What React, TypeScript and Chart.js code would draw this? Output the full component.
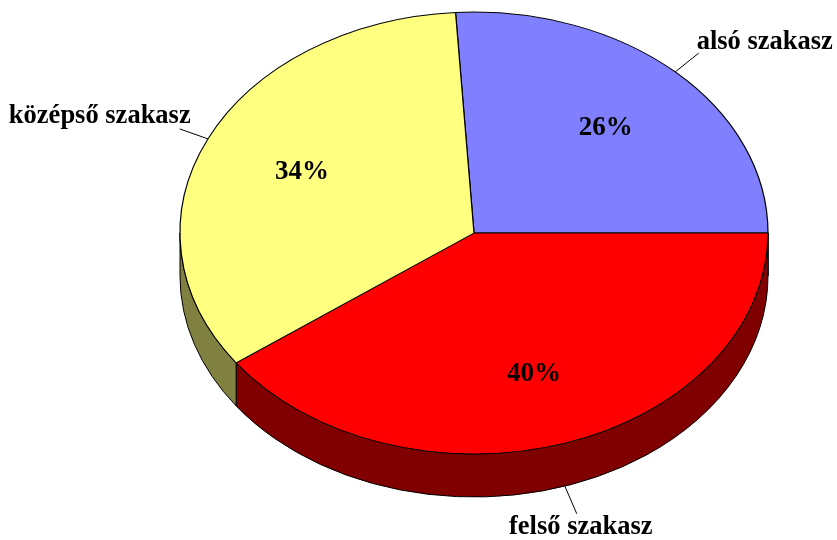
import React, { useEffect, useRef } from "react";
import { Chart, registerables } from "chart.js";

Chart.register(...registerables);

const categories = ["alsó szakasz", "felső szakasz", "középső szakasz"];
const values = [26, 40, 34];
const topColors = ["#8080FF", "#FF0000", "#FFFF80"];
const sideColors = ["#404080", "#800000", "#808040"];

const DEPTH = 43;
const PCT_FONT = 'bold 27px "Liberation Serif", "Times New Roman", serif';
const CAT_FONT = 'bold 26.5px "Liberation Serif", "Times New Roman", serif';

function geom(chart: any) {
  const a = chart.chartArea;
  const rx = (a.right - a.left) / 2;
  const ry = (a.bottom - a.top - DEPTH) / 2;
  const cx = (a.left + a.right) / 2;
  const cy = a.top + ry;
  return { cx, cy, rx, ry };
}

const pie3d = {
  id: "pie3d",
  beforeDatasetsDraw(chart: any) {
    const ctx = chart.ctx as CanvasRenderingContext2D;
    const meta = chart.getDatasetMeta(0);
    const { cx, cy, rx, ry } = geom(chart);
    ctx.save();
    ctx.lineWidth = 1;
    ctx.strokeStyle = "#000";
    ctx.lineJoin = "round";
    meta.data.forEach((arc: any, i: number) => {
      const startAngle = arc.startAngle;
      const endAngle = arc.endAngle;
      for (const base of [-2 * Math.PI, 0, 2 * Math.PI]) {
        const s = Math.max(startAngle, base);
        const e = Math.min(endAngle, base + Math.PI);
        if (e <= s) continue;
        ctx.beginPath();
        ctx.ellipse(cx, cy, rx, ry, 0, s, e, false);
        ctx.lineTo(cx + rx * Math.cos(e), cy + DEPTH + ry * Math.sin(e));
        ctx.ellipse(cx, cy + DEPTH, rx, ry, 0, e, s, true);
        ctx.closePath();
        ctx.fillStyle = sideColors[i];
        ctx.fill();
        ctx.stroke();
      }
    });
    ctx.restore();
    const arc0 = meta.data[0];
    const r = arc0.outerRadius;
    ctx.save();
    ctx.translate(cx, cy);
    ctx.scale(rx / r, ry / r);
    ctx.translate(-arc0.x, -arc0.y);
  },
  afterDatasetsDraw(chart: any) {
    const ctx = chart.ctx as CanvasRenderingContext2D;
    ctx.restore();
    const meta = chart.getDatasetMeta(0);
    const { cx, cy, rx, ry } = geom(chart);
    const total = values.reduce((a, b) => a + b, 0);
    ctx.save();
    ctx.fillStyle = "#000";
    ctx.strokeStyle = "#000";
    ctx.lineWidth = 1;
    meta.data.forEach((arc: any, i: number) => {
      const m = (arc.startAngle + arc.endAngle) / 2;
      const c = Math.cos(m);
      const s = Math.sin(m);
      // percentage inside
      const pct = Math.round((values[i] / total) * 100) + "%";
      ctx.font = PCT_FONT;
      ctx.textAlign = "center";
      ctx.textBaseline = "middle";
      ctx.fillText(
        pct,
        cx + 0.65 * rx * c + 1,
        cy + 0.65 * ry * s + 0.1 * DEPTH * Math.max(s, 0)
      );
      // leader line
      const ex = cx + rx * c;
      const ey = cy + ry * s + (s > 0 ? DEPTH : 0);
      const len = Math.hypot(rx * c, ry * s);
      const dx = (rx * c) / len;
      const dy = (ry * s) / len;
      const lx = ex + dx * 30;
      const ly = ey + dy * 30;
      ctx.beginPath();
      ctx.moveTo(ex, ey);
      ctx.lineTo(lx, ly);
      ctx.stroke();
      ctx.font = CAT_FONT;
      ctx.textBaseline = "middle";
      if (dy > 0.7) {
        ctx.textAlign = "center";
        ctx.fillText(categories[i], lx + 4, ly + 13);
      } else if (dx > 0) {
        ctx.textAlign = "left";
        ctx.fillText(categories[i], lx - 2, ly - 11);
      } else {
        ctx.textAlign = "right";
        ctx.fillText(categories[i], lx + 11, ly - 13);
      }
    });
    ctx.restore();
  },
};

export default function App() {
  const ref = useRef<HTMLCanvasElement>(null);
  useEffect(() => {
    if (!ref.current) return;
    const chart = new Chart(ref.current, {
      type: "pie",
      data: {
        labels: categories,
        datasets: [
          {
            data: values,
            backgroundColor: topColors,
            borderColor: "#000",
            borderWidth: 1,
          },
        ],
      },
      options: {
        animation: false,
        responsive: false,
        rotation: -3.6,
        layout: { padding: { left: 180, right: 69, top: 12, bottom: 43 } },
        plugins: {
          legend: { display: false },
          tooltip: { enabled: false },
        },
        events: [],
      },
      plugins: [pie3d],
    } as any);
    return () => chart.destroy();
  }, []);
  return (
    <div style={{ position: "absolute", left: 0, top: 0, width: 837, height: 540, background: "#fff" }}>
      <canvas ref={ref} width={837} height={540} style={{ display: "block" }} />
    </div>
  );
}
